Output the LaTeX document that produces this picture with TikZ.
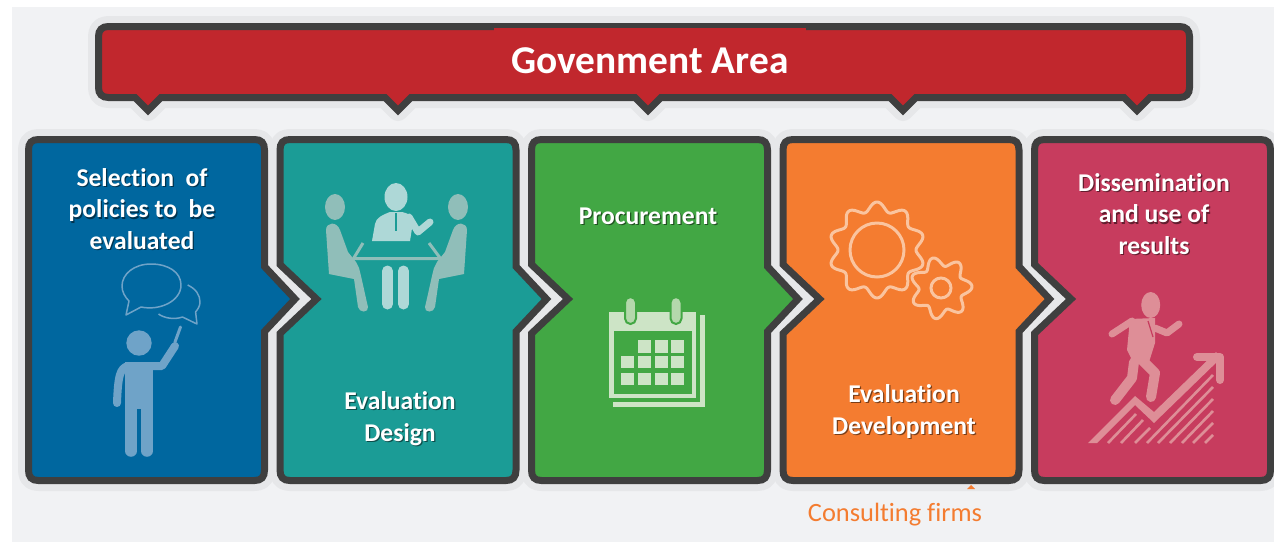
\documentclass[tikz,border=0pt]{standalone}
\usepackage{fontspec}
\setmainfont[Ligatures=NoCommon]{Carlito}
\definecolor{bgc}{HTML}{F1F2F4}
\definecolor{haloc}{HTML}{E6E7E9}
\definecolor{darkc}{HTML}{3F3F3F}
\definecolor{redc}{HTML}{C1272D}
\definecolor{bluec}{HTML}{00679F}
\definecolor{tealc}{HTML}{1B9C96}
\definecolor{greenc}{HTML}{42A744}
\definecolor{orangec}{HTML}{F47C30}
\definecolor{pinkc}{HTML}{C73C5E}
\definecolor{iconblue}{HTML}{6FA3C8}
\definecolor{iconteal}{HTML}{AED8D7}
\definecolor{iconteald}{HTML}{90BEB9}
\definecolor{icongreen}{HTML}{CDE4C6}
\definecolor{iconring}{HTML}{B4D8AC}
\definecolor{iconorange}{HTML}{FAC49F}
\definecolor{iconpink}{HTML}{DE8E97}
\tikzset{
  halostyle/.style={draw=haloc,line width=21pt,line join=round},
  outline/.style={draw=darkc,line width=7pt,line join=miter,miter limit=10},
  paneltext/.style={text=white,font=\bfseries\fontsize{25.6}{31.5}\selectfont,align=center,inner sep=0pt},
  shadowtext/.style={paneltext,text=black,opacity=0.5},
  titletext/.style={text=white,font=\bfseries\fontsize{39.4}{42}\selectfont,inner sep=0pt},
  firmtext/.style={text=orangec,font=\fontsize{26.4}{30}\selectfont,inner sep=0pt},
}
\newcommand{\PanelPath}[2]{%
  (10,139.5) -- (226,139.5) .. controls (233,139.5) and (236,143) .. (236,150)
  #2 -- (236,470) .. controls (236,477) and (233,480.5) .. (226,480.5)
  -- (10,480.5) .. controls (3,480.5) and (0,477) .. (0,470)
  #1 -- (0,150) .. controls (0,143) and (3,139.5) .. (10,139.5) -- cycle}
\newcommand{\NL}{-- (0,333.5) -- (36.5,299) -- (0,264.5)}
\newcommand{\NR}{-- (236,266.5) -- (266.5,299) -- (236,331.5)}
\newcommand{\BannerPath}{(108.5,26.5) -- (1179.5,26.5) .. controls (1186,26.5) and (1189.5,30) .. (1189.5,36.5)
  -- (1189.5,87.5) .. controls (1189.5,94) and (1186,97.5) .. (1179.5,97.5)
  -- (1150,97.5) -- (1137,110.5) -- (1124,97.5)
  -- (916,97.5) -- (903,110.5) -- (890,97.5)
  -- (661,97.5) -- (648,110.5) -- (635,97.5)
  -- (411,97.5) -- (398,110.5) -- (385,97.5)
  -- (161,97.5) -- (148,110.5) -- (135,97.5)
  -- (108.5,97.5) .. controls (102,97.5) and (98.5,94) .. (98.5,87.5)
  -- (98.5,36.5) .. controls (98.5,30) and (102,26.5) .. (108.5,26.5) -- cycle}
\begin{document}
\begin{tikzpicture}[x=1pt,y=-1pt]
\useasboundingbox (0,0) rectangle (1274,542);
\fill[white] (0,0) rectangle (1274,542);
\fill[bgc] (12,7) rectangle (1274,542);
% halos
\draw[halostyle] \BannerPath;
\begin{scope}[xshift=28.5pt]\draw[halostyle] \PanelPath{}{\NR};\end{scope}
\begin{scope}[xshift=280pt]\draw[halostyle] \PanelPath{\NL}{\NR};\end{scope}
\begin{scope}[xshift=531.5pt]\draw[halostyle] \PanelPath{\NL}{\NR};\end{scope}
\begin{scope}[xshift=783pt]\draw[halostyle] \PanelPath{\NL}{\NR};\end{scope}
\begin{scope}[xshift=1034.5pt]\draw[halostyle] \PanelPath{\NL}{};\end{scope}
% banner
\path[outline,fill=redc] \BannerPath;
\fill[redc] (494,28) rectangle (806,32);
% panels
\begin{scope}[xshift=28.5pt]\path[outline,fill=bluec] \PanelPath{}{\NR};\end{scope}
\begin{scope}[xshift=280pt]\path[outline,fill=tealc] \PanelPath{\NL}{\NR};\end{scope}
\begin{scope}[xshift=531.5pt]\path[outline,fill=greenc] \PanelPath{\NL}{\NR};\end{scope}
\begin{scope}[xshift=783pt]\path[outline,fill=orangec] \PanelPath{\NL}{\NR};\end{scope}
\begin{scope}[xshift=1034.5pt]\path[outline,fill=pinkc] \PanelPath{\NL}{};\end{scope}
% icon 1: person with bubbles
\fill[iconblue] (139,343) circle (12.7);
\fill[iconblue] (125,362) -- (153,362) -- (153,409) -- (125,409) -- cycle;
\draw[iconblue,line width=11.5pt,line cap=round] (131,376) -- (131,451);
\draw[iconblue,line width=11.5pt,line cap=round] (147,376) -- (147,451);
\fill[iconblue] (137,409) rectangle (140.5,380);
\draw[iconblue,line width=8pt,line cap=round,line join=round] (128,366) .. controls (120,368) and (118,376) .. (117,403);
\draw[iconblue,line width=8pt,line cap=round,line join=round] (150,366) -- (162,366) -- (175,346);
\draw[iconblue,line width=3pt,line cap=round] (175,342) -- (180.5,327);
\draw[iconblue,line width=1.5pt,line join=round]
  (129,301) -- (126,315) -- (141,307) .. controls (160,311) and (181,301) .. (181,285)
  .. controls (181,272) and (168,264) .. (151,264) .. controls (134,264) and (122,274) .. (122,286)
  .. controls (122,292) and (125,297) .. (129,301) -- cycle;
\draw[iconblue,line width=1.5pt,line join=round]
  (187.7,285) .. controls (196,289) and (200,295) .. (200,302) .. controls (200,306) and (198,309) .. (195.6,312)
  -- (197,324) -- (182.5,317) .. controls (174,320) and (164,318) .. (158.5,314);
% icon 2: meeting
\fill[iconteal] (396,197) ellipse (11.5 and 14);
\fill[iconteal] (372,241) -- (375,224) .. controls (376,218) and (382,215) .. (390,212) -- (402,212)
  .. controls (408,213) and (412,216) .. (413,222) -- (410,241) -- cycle;
\draw[iconteal,line width=7pt,line cap=round,line join=round] (409,217) -- (418,232) -- (430,222);
\draw[tealc,line width=2pt] (396,213) -- (396,231);
\draw[iconteald,line width=3pt,line join=miter] (363,243) -- (353.5,258.5) -- (440.5,258.5) -- (429,243);
\draw[iconteal,line width=11pt,line cap=round] (387.5,271) -- (387.5,304);
\draw[iconteal,line width=11pt,line cap=round] (403.5,271) -- (403.5,304);
\fill[iconteald] (335,207) ellipse (10 and 13);
\fill[iconteald] (326,230) .. controls (326,222) and (337,221) .. (340,230) -- (348,252) -- (356,262)
  -- (359,268) .. controls (361,275) and (364,290) .. (368,307)
  .. controls (369,313) and (359,313) .. (358,307) -- (354,279) -- (329,274) -- cycle;
\fill[iconteald] (458,207) ellipse (10 and 13);
\fill[iconteald] (467,230) .. controls (467,222) and (456,221) .. (453,230) -- (445,252) -- (437,262)
  -- (434,268) .. controls (432,275) and (429,290) .. (425,307)
  .. controls (424,313) and (434,313) .. (435,307) -- (439,279) -- (464,274) -- cycle;
% icon 3: calendar
\fill[icongreen] (700,315) rectangle (705,407);
\fill[icongreen] (613,402) rectangle (705,407);
\fill[icongreen] (609,312) rectangle (696,398);
\fill[greenc] (614,331) rectangle (692,394);
\draw[greenc,fill=iconring,line width=2pt,rounded corners=5.5pt] (625,297) rectangle (636,324);
\draw[greenc,fill=iconring,line width=2pt,rounded corners=5.5pt] (670.5,297) rectangle (681.5,324);
\foreach \gx in {638.3,655.3,670.7}{\fill[icongreen] (\gx,340) rectangle +(13,12.7);}
\foreach \gx in {621,638.3,655.3,670.7}{
  \fill[icongreen] (\gx,355.7) rectangle +(13,12.7);
  \fill[icongreen] (\gx,372.7) rectangle +(13,12.7);}
% icon 4: gears
\draw[iconorange,line width=3pt] (877,250) circle (27);
\draw[iconorange,line width=3pt,line join=round,shift={(877,250)}]
  plot[domain=0:360,samples=241] (\x:{43.5+4.5*cos(10*(\x-90))}) -- cycle;
\draw[iconorange,line width=3pt] (941,288) circle (10);
\draw[iconorange,line width=3pt,line join=round,shift={(941,288)}]
  plot[domain=0:360,samples=241] (\x:{26.5+4.5*cos(7*(\x-100))}) -- cycle;
% icon 5: runner
\fill[iconpink] (1150.7,305) ellipse (9.5 and 13);
\fill[iconpink] (1130,319) -- (1155,318) -- (1155,343) -- (1149,362) -- (1132,360) -- (1127,350) -- cycle;
\draw[iconpink,line width=7pt,line cap=round,line join=round] (1132,321) -- (1112,334);
\draw[iconpink,line width=7pt,line cap=round,line join=round] (1155,328) -- (1167,333) -- (1179,324);
\draw[iconpink,line width=10pt,line cap=round,line join=round] (1140,358) -- (1155,373) -- (1151,397);
\draw[iconpink,line width=10pt,line cap=round,line join=round] (1134,362) -- (1132,378) -- (1115,400);
\draw[pinkc,line width=1.2pt] (1148,321) -- (1153,337);
\fill[iconpink] (1088,443) -- (1135,396) -- (1154,412) -- (1216,352) -- (1221,358) -- (1154,423) -- (1135,405) -- (1097,443) -- cycle;
\draw[iconpink,line width=8pt,line cap=round,line join=round] (1197,357) -- (1220,357) -- (1220,380);
\draw[iconpink,line width=2.6pt]
  (1108,443) -- (1136,414)  (1121,443) -- (1143,420)  (1135,443) -- (1150,428)
  (1147,443) -- (1213,375)  (1158,443) -- (1213,387)  (1170,443) -- (1213,399)
  (1182,443) -- (1213,411)  (1193,443) -- (1213,423)  (1205,443) -- (1213,435);
% texts
\node[titletext] (title) at (650,60.5) {Govenment Area};
\node[shadowtext] (s1s) at (143.2,210.2) {Selection\ \ of\\policies to\ \ be\\evaluated};
\node[paneltext] (s1) at (142,209) {Selection\ \ of\\policies to\ \ be\\evaluated};
\node[shadowtext] (s2s) at (401.2,419.7) {Evaluation\\Design};
\node[paneltext] (s2) at (400,418.5) {Evaluation\\Design};
\node[shadowtext] (s3s) at (649.2,217.2) {Procurement};
\node[paneltext] (s3) at (648,216) {Procurement};
\node[shadowtext] (s4s) at (905.2,412.7) {Evaluation\\Development};
\node[paneltext] (s4) at (904,411.5) {Evaluation\\Development};
\node[shadowtext] (s5s) at (1155.2,215.2) {Dissemination\\and use of\\results};
\node[paneltext] (s5) at (1154,214) {Dissemination\\and use of\\results};
\fill[orangec] (971,485) -- (975,489) -- (967,489) -- cycle;
\node[firmtext] (firms) at (895,515) {Consulting firms};
\end{tikzpicture}
\end{document}
